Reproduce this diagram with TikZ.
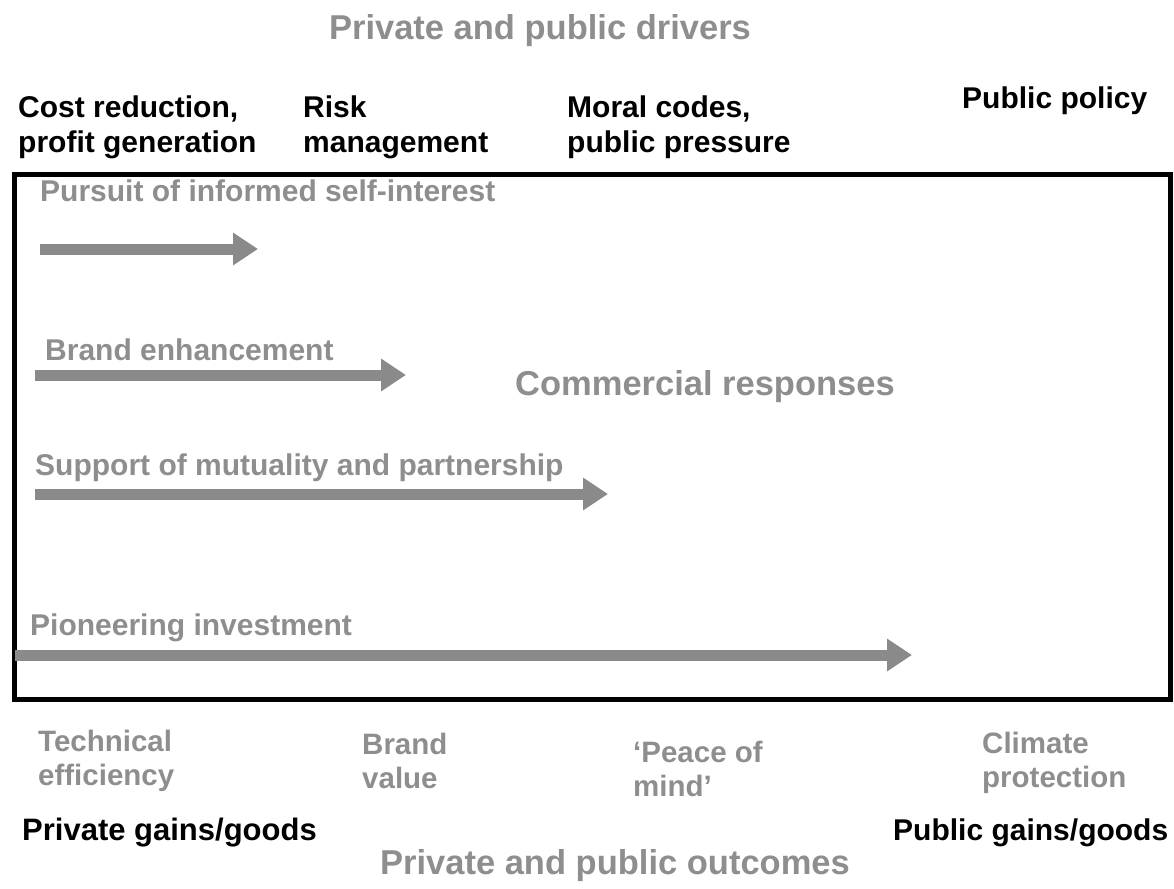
\documentclass[tikz,border=0pt]{standalone}
\usepackage{fontspec}
\setmainfont{Liberation Sans}
\usetikzlibrary{arrows.meta}
\definecolor{lgray}{HTML}{8E8E8E}
\definecolor{agray}{HTML}{8A8A8A}
\tikzset{
  blk/.style={anchor=west, align=left, inner sep=0pt, font=\bfseries\fontsize{30}{35}\selectfont, text=black},
  gry/.style={anchor=west, align=left, inner sep=0pt, font=\bfseries\fontsize{30}{34}\selectfont, text=lgray},
  outc/.style={anchor=west, align=left, inner sep=0pt, font=\bfseries\fontsize{29.5}{34}\selectfont, text=lgray},
  ttl/.style={inner sep=0pt, font=\bfseries\fontsize{34.5}{38}\selectfont, text=lgray},
  garrow/.style={draw=agray, line width=11pt, -{Triangle[length=25pt,width=31pt]}},
}
\begin{document}
\begin{tikzpicture}[x=1pt,y=-1pt]
\useasboundingbox (0,0) rectangle (1174,888);
% title
\node[ttl] (top) at (540,31) {Private and public drivers};
% drivers
\node[blk] (d1) at (18,127) {Cost reduction,\\profit generation};
\node[blk] (d2) at (303,127) {Risk\\management};
\node[blk] (d3) at (567,127) {Moral codes,\\public pressure};
\node[blk] (d4) at (962,101) {Public policy};
% box
\node[draw=black, line width=5pt, minimum width=1156pt, minimum height=525pt, inner sep=0pt, anchor=north west] (box) at (12,172) {};
% responses
\node[gry] (r1) at (40,191) {Pursuit of informed self-interest};
\coordinate (a1s) at (40,249); \coordinate (a1e) at (258,249);
\draw[garrow] (a1s) -- (a1e);
\node[gry] (r2) at (45,350) {Brand enhancement};
\coordinate (a2s) at (35,375); \coordinate (a2e) at (406,375);
\draw[garrow] (a2s) -- (a2e);
\node[gry] (r3) at (35,468) {Support of mutuality and partnership};
\coordinate (a3s) at (35,494); \coordinate (a3e) at (608,494);
\draw[garrow] (a3s) -- (a3e);
\node[gry] (r4) at (30,628) {Pioneering investment};
\coordinate (a4s) at (15,655); \coordinate (a4e) at (912,655);
\draw[garrow] (a4s) -- (a4e);
\node[ttl] (cr) at (705,387) {Commercial responses};
% outcomes
\node[outc] (o1) at (38,761) {Technical\\efficiency};
\node[outc] (o2) at (362,761) {Brand\\value};
\node[outc] (o3) at (633,769) {`Peace of\\mind'};
\node[outc] (o4) at (982,763) {Climate\\protection};
\node[blk, font=\bfseries\fontsize{31}{35}\selectfont] (p1) at (22,833) {Private gains/goods};
\node[blk] (p2) at (893,833) {Public gains/goods};
\node[ttl] (bot) at (615,866) {Private and public outcomes};
\end{tikzpicture}
\end{document}
